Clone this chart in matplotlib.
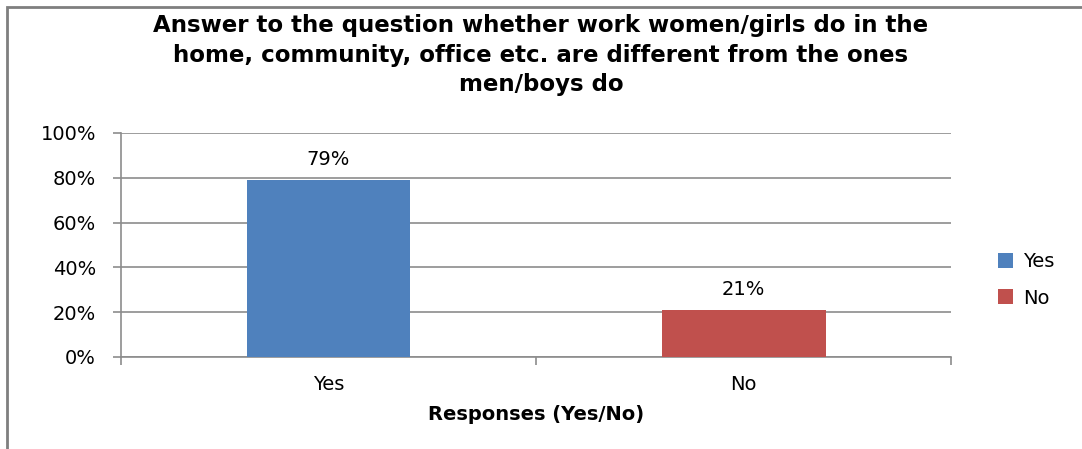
import matplotlib
matplotlib.use('Agg')
import matplotlib.pyplot as plt
from matplotlib.patches import Rectangle

categories = ['Yes', 'No']
values = [79, 21]
colors = ['#4F81BD', '#C0504D']
yticks = [0, 20, 40, 60, 80, 100]
title = ('Answer to the question whether work women/girls do in the\n'
         'home, community, office etc. are different from the ones\n'
         'men/boys do')
xlabel = 'Responses (Yes/No)'

fig = plt.figure(figsize=(10.82, 4.49), dpi=100)
ax = fig.add_axes([0.1118, 0.2049, 0.879 - 0.1118, 0.7038 - 0.2049])

# frame around the whole chart (only left/top visible in reference)
fig.patches.append(Rectangle((7 / 1082, -0.1), 1.2, 1 - 7 / 449 + 0.1,
                             transform=fig.transFigure, fill=False,
                             edgecolor='#7f7f7f', linewidth=2))

x = list(range(len(categories)))
bars = ax.bar(x, values, 0.395, color=colors, zorder=3)
for b, lab in zip(bars, categories):
    b.set_label(lab)

for xi, v in zip(x, values):
    ax.text(xi, v + 5, f'{v}%', ha='center', va='bottom', fontsize=14)

ax.set_xlim(-0.5, 1.5)
ax.set_ylim(0, 100)
ax.set_yticks(yticks)
ax.set_yticklabels([f'{t}%' for t in yticks], fontsize=14)
ax.yaxis.grid(True, color='#8c8c8c', linewidth=1.2, zorder=0)
ax.set_axisbelow(True)

ax.set_xticks([-0.5, 0.5, 1.5])
ax.set_xticklabels([])
ax.set_xticks(x, minor=True)
ax.set_xticklabels(categories, minor=True, fontsize=14)
ax.tick_params(axis='x', which='minor', length=0, pad=13)
ax.tick_params(axis='x', which='major', length=6, color='#8c8c8c', width=1.2)
ax.tick_params(axis='y', length=6, color='#8c8c8c', width=1.2, pad=12)

for s in ['top', 'right']:
    ax.spines[s].set_visible(False)
for s in ['left', 'bottom']:
    ax.spines[s].set_color('#8c8c8c')
    ax.spines[s].set_linewidth(1.2)

ax.set_xlabel(xlabel, fontsize=14, fontweight='bold', labelpad=8)

fig.text(0.5, 0.968, title, ha='center', va='top', fontsize=16.5,
         fontweight='bold', linespacing=1.35)

ax.legend(loc='center left', bbox_to_anchor=(1.035, 0.344), frameon=False,
          fontsize=14, handlelength=0.8, handleheight=0.8, handletextpad=0.5,
          labelspacing=0.9)

fig.savefig('out.png', dpi=100)
